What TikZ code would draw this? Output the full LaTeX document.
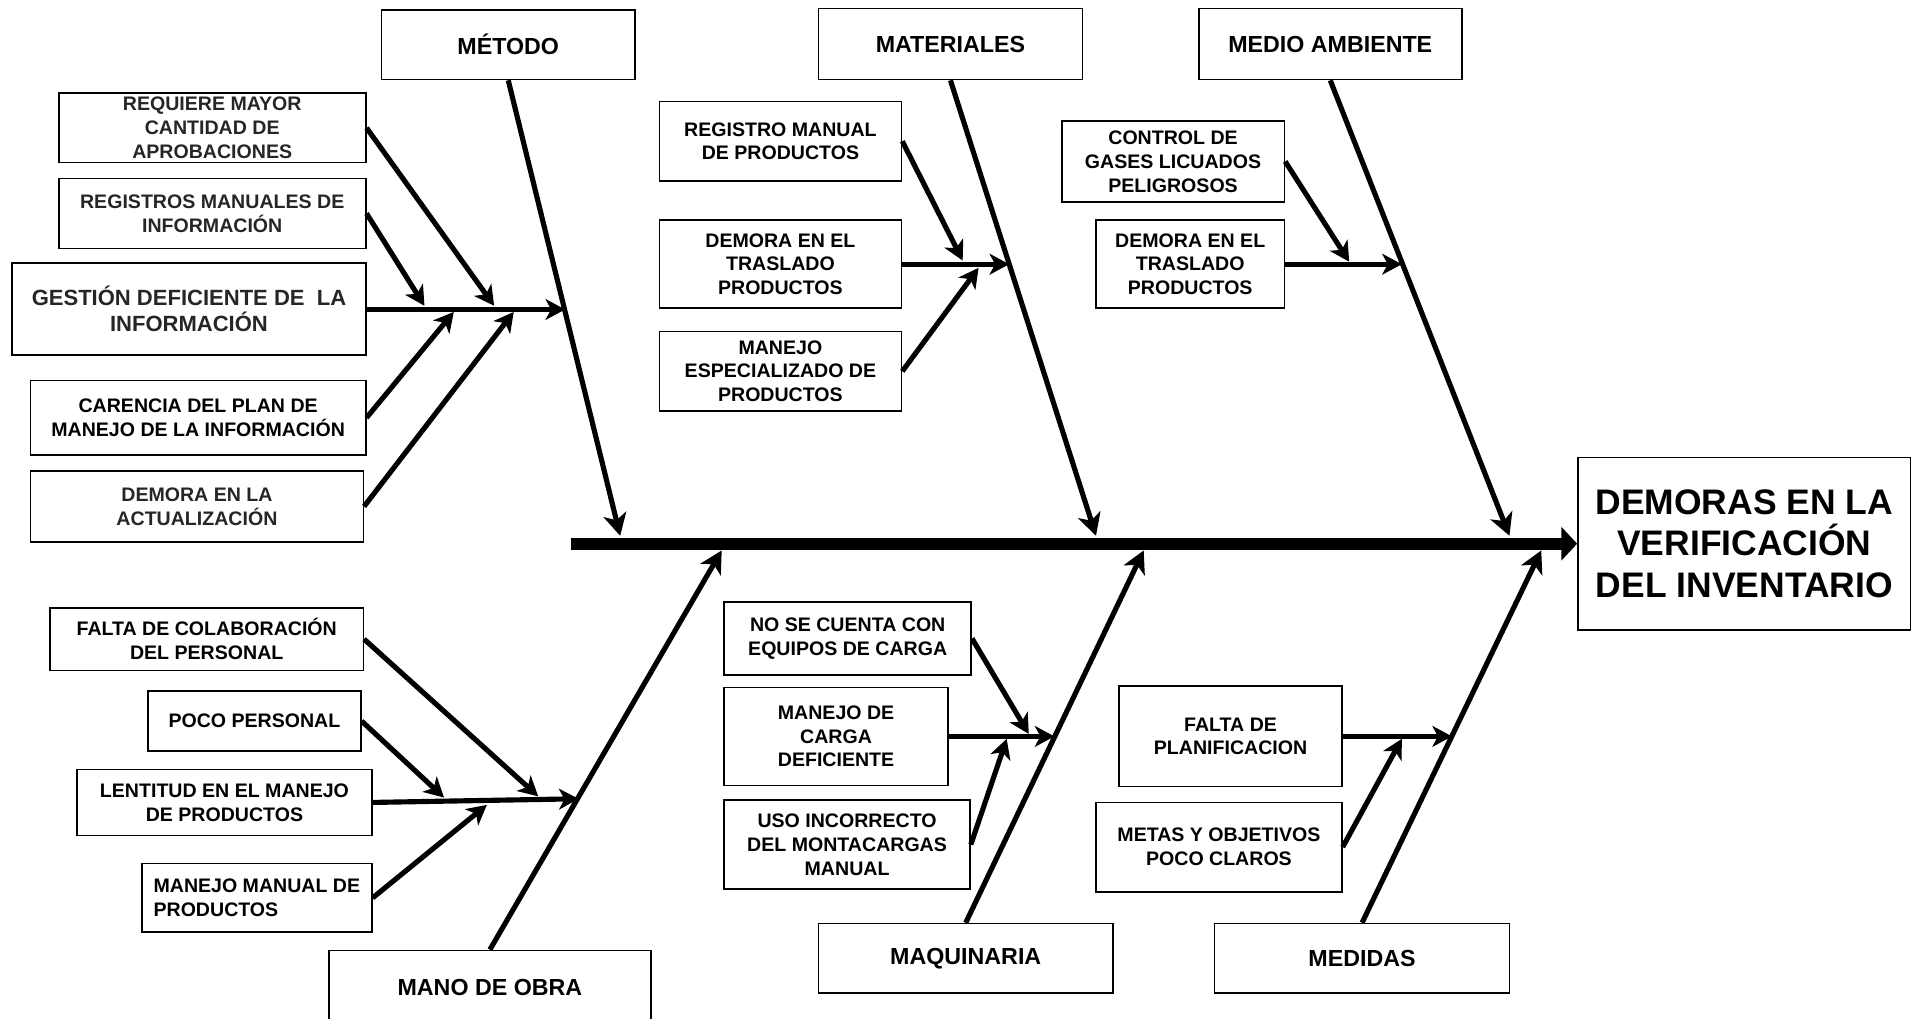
\documentclass[tikz,border=0pt]{standalone}
\usepackage{fontspec}
\setmainfont{Liberation Sans}
\usetikzlibrary{arrows.meta}
\definecolor{causegray}{gray}{0.15}

\tikzset{
  box/.style={draw=black, line width=1.3pt, fill=white, inner sep=2pt, align=center},
  cat/.style={box, font=\fontsize{19}{23}\selectfont\bfseries},
  cause/.style={box, font=\fontsize{16}{19.5}\selectfont\bfseries},
  effectbox/.style={box, font=\fontsize{29}{34}\selectfont\bfseries},
  bone/.style={line width=4.2pt, -{Stealth[length=18pt,width=19pt,inset=5pt]}},
  twig/.style={line width=4.2pt, -{Stealth[length=16pt,width=17pt,inset=4.5pt]}},
  spine/.style={line width=10pt, -{Triangle[length=13pt,width=27pt]}},
}

\begin{document}
\begin{tikzpicture}[x=1pt,y=-1pt]
\useasboundingbox[fill=white] (0,0) rectangle (1568,833);

% ---- effect and main spine ----
\node[effectbox, minimum width=272pt, minimum height=141pt] (effect) at (1426,444.5)
  {DEMORAS EN LA\\VERIFICACIÓN\\DEL INVENTARIO};
\coordinate (spinestart) at (467,444.5);
\draw[spine] (spinestart) -- (effect.west);

% ---- category boxes ----
\node[cat, minimum width=207pt, minimum height=57pt] (metodo) at (415.5,36.5) {MÉTODO};
\node[cat, minimum width=216pt, minimum height=58pt] (materiales) at (777,36) {MATERIALES};
\node[cat, minimum width=215pt, minimum height=58pt] (medio) at (1087.5,36) {MEDIO AMBIENTE};
\begin{scope}
  \clip (0,0) rectangle (1568,833);
  \node[cat, minimum width=263pt, minimum height=60pt] (mano) at (400.5,807) {MANO DE OBRA};
\end{scope}
\node[cat, minimum width=241pt, minimum height=57pt] (maquinaria) at (789.5,783.5) {MAQUINARIA};
\node[cat, minimum width=241pt, minimum height=57pt] (medidas) at (1113.5,783.5) {MEDIDAS};

% ---- points where the bones meet the spine ----
\coordinate (tMet) at (507,438);
\coordinate (tMat) at (896,438);
\coordinate (tMed) at (1234,438);
\coordinate (tMan) at (590,450);
\coordinate (tMaq) at (935,450);
\coordinate (tMdd) at (1260,450);

\draw[bone] (metodo.south) -- (tMet);
\draw[bone] (materiales.south) -- (tMat);
\draw[bone] (medio.south) -- (tMed);
\draw[bone] (mano.north) -- (tMan);
\draw[bone] (maquinaria.north) -- (tMaq);
\draw[bone] (medidas.north) -- (tMdd);

% ---- MÉTODO causes ----
\node[cause, text=causegray, minimum width=251pt, minimum height=57pt] (req) at (173.5,104.5)
  {REQUIERE MAYOR\\CANTIDAD DE\\APROBACIONES};
\node[cause, text=causegray, minimum width=251pt, minimum height=57pt] (regm) at (173.5,174.5)
  {REGISTROS MANUALES DE\\INFORMACIÓN};
\node[box, text=causegray, font=\fontsize{18}{21}\selectfont\bfseries, minimum width=289pt, minimum height=75pt] (gest) at (154.5,252.5)
  {GESTIÓN DEFICIENTE DE\ \ LA\\INFORMACIÓN};
\node[cause, minimum width=274pt, minimum height=61pt] (caren) at (162,341.5)
  {CARENCIA DEL PLAN DE\\MANEJO DE LA INFORMACIÓN};
\node[cause, text=causegray, minimum width=272pt, minimum height=58pt] (demla) at (161,414)
  {DEMORA EN LA\\ACTUALIZACIÓN};

\coordinate (jGest) at (462,253);
\coordinate (jReq) at (404,250);
\coordinate (jRegm) at (347,250);
\coordinate (jCaren) at (371,255);
\coordinate (jDemla) at (420,255);
\draw[twig] (gest.east |- jGest) -- (jGest);
\draw[twig] (req.east) -- (jReq);
\draw[twig] (regm.east) -- (jRegm);
\draw[twig] (caren.east) -- (jCaren);
\draw[twig] (demla.east) -- (jDemla);

% ---- MATERIALES causes ----
\node[cause, minimum width=198pt, minimum height=65pt] (regprod) at (638,115.5)
  {REGISTRO MANUAL\\DE PRODUCTOS};
\node[cause, minimum width=198pt, minimum height=72pt] (trasA) at (638,216)
  {DEMORA EN EL\\TRASLADO\\PRODUCTOS};
\node[cause, minimum width=198pt, minimum height=65pt] (manesp) at (638,303.5)
  {MANEJO\\ESPECIALIZADO DE\\PRODUCTOS};

\coordinate (jTrasA) at (825,216);
\coordinate (jRegprod) at (787,213);
\coordinate (jManesp) at (800,219);
\draw[twig] (trasA.east) -- (jTrasA);
\draw[twig] (regprod.east) -- (jRegprod);
\draw[twig] (manesp.east) -- (jManesp);

% ---- MEDIO AMBIENTE causes ----
\node[cause, minimum width=182pt, minimum height=66pt] (gases) at (959,132)
  {CONTROL DE\\GASES LICUADOS\\PELIGROSOS};
\node[cause, minimum width=154pt, minimum height=72pt] (trasB) at (973,216)
  {DEMORA EN EL\\TRASLADO\\PRODUCTOS};

\coordinate (jTrasB) at (1146,216);
\coordinate (jGases) at (1103,214);
\draw[twig] (trasB.east) -- (jTrasB);
\draw[twig] (gases.east) -- (jGases);

% ---- MANO DE OBRA causes ----
\node[cause, minimum width=256pt, minimum height=51pt] (colab) at (169,522.5)
  {FALTA DE COLABORACIÓN\\DEL PERSONAL};
\node[cause, minimum width=174pt, minimum height=49pt] (poco) at (208,589.5)
  {POCO PERSONAL};
\node[cause, minimum width=241pt, minimum height=54pt] (lent) at (183.5,656)
  {LENTITUD EN EL MANEJO\\DE PRODUCTOS};
\node[cause, align=left, minimum width=188pt, minimum height=56pt] (manman) at (210,734)
  {MANEJO MANUAL DE\\PRODUCTOS};

\coordinate (jLent) at (473,653);
\coordinate (jColab) at (440,651);
\coordinate (jPoco) at (363,652);
\coordinate (jManman) at (398,658);
\draw[twig] (lent.east) -- (jLent);
\draw[twig] (colab.east) -- (jColab);
\draw[twig] (poco.east) -- (jPoco);
\draw[twig] (manman.east) -- (jManman);

% ---- MAQUINARIA causes ----
\node[cause, minimum width=202pt, minimum height=60pt] (nose) at (693,522)
  {NO SE CUENTA CON\\EQUIPOS DE CARGA};
\node[cause, minimum width=183pt, minimum height=80pt] (carga) at (683.5,602)
  {MANEJO DE\\CARGA\\DEFICIENTE};
\node[cause, minimum width=201pt, minimum height=73pt] (uso) at (692.5,690.5)
  {USO INCORRECTO\\DEL MONTACARGAS\\MANUAL};

\coordinate (jCarga) at (862,602);
\coordinate (jNose) at (841,600);
\coordinate (jUso) at (823,604);
\draw[twig] (carga.east) -- (jCarga);
\draw[twig] (nose.east) -- (jNose);
\draw[twig] (uso.east) -- (jUso);

% ---- MEDIDAS causes ----
\node[cause, minimum width=182pt, minimum height=82pt] (plan) at (1006,602)
  {FALTA DE\\PLANIFICACION};
\node[cause, minimum width=201pt, minimum height=73pt] (metas) at (996.5,692.5)
  {METAS Y OBJETIVOS\\POCO CLAROS};

\coordinate (jPlan) at (1187,602);
\coordinate (jMetas) at (1146,604);
\draw[twig] (plan.east) -- (jPlan);
\draw[twig] (metas.east) -- (jMetas);
\end{tikzpicture}
\end{document}
